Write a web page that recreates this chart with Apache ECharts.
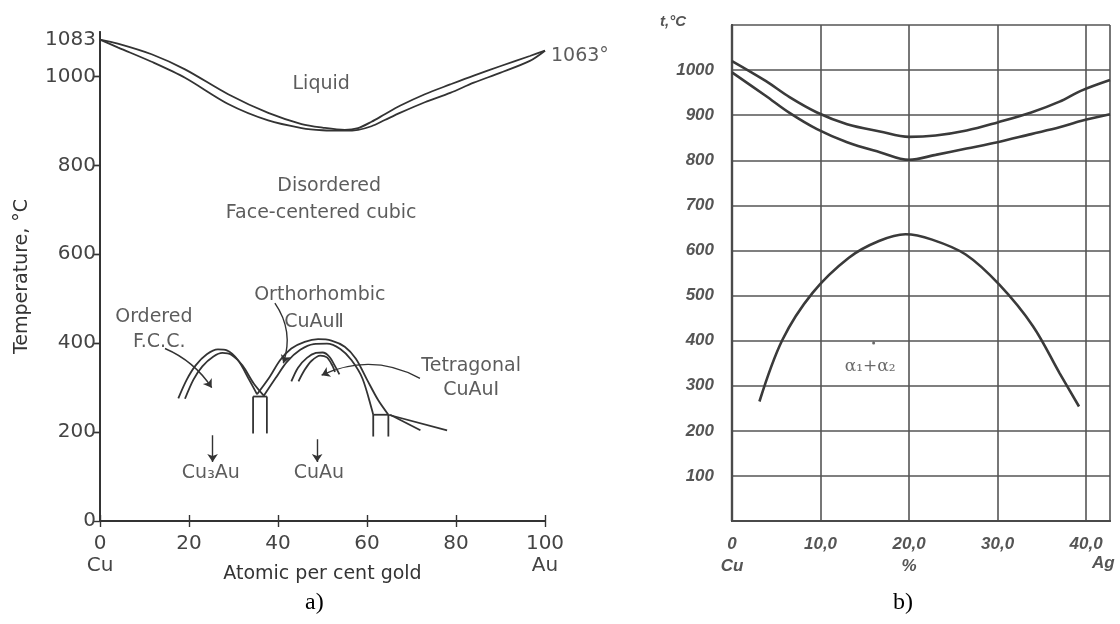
<!DOCTYPE html>
<html><head><meta charset="utf-8">
<script src="https://cdn.jsdelivr.net/npm/echarts@6/dist/echarts.min.js"></script>
<style>html,body{margin:0;padding:0;background:#fff}#c{width:1120px;height:624px}</style>
</head><body><div id="c"></div>
<script>
// ===== a) Cu–Au phase diagram =====
const aXTicks = [0, 20, 40, 60, 80, 100];
const aXSub = ['Cu', '', '', '', '', 'Au'];
const aYTicks = [0, 200, 400, 600, 800, 1000];
const aYExtra = [1083];
const aLiquidus = [[0,1083],[4,1074],[11.6,1050],[19.1,1016],[28.8,960],[37.8,918],[45.3,893],[50,885],[55,880],[58,884],[61,898],[64,915],[67.4,934],[73,960],[78.7,982],[84,1002],[89.9,1023],[96.6,1046],[100,1058]];
const aSolidus  = [[0,1083],[4.1,1065],[11.6,1033],[19.1,997],[28.8,938],[37.8,901],[45.3,884],[50,879],[55,878],[58,880],[61,888],[64,902],[67.4,918],[73,942],[78.7,963],[84,986],[89.9,1008],[96.6,1035],[100,1058]];
const aCu3AuOuter = [[17.6,276],[19.5,318],[21.5,350],[24,375],[26.5,386],[28.5,384],[31,362],[33.5,318],[35.3,285]];
const aCu3AuInner = [[19.1,275],[21,318],[23,348],[25.5,370],[27.5,378],[29.5,374],[32,350],[34.5,310],[36.8,282]];
const aCuAuOuter  = [[35.3,285],[38,322],[40.5,362],[43,388],[46,403],[49,409],[52,406],[55,392],[57.5,365],[60,318],[62.5,272],[64.8,239]];
const aCuAuInner  = [[36.8,282],[39.5,322],[42,358],[45,385],[48,398],[51,399],[54,387],[56.5,362],[59,320],[61.4,239]];
const aTetraOuter = [[43,314],[44.5,345],[46.5,367],[48.5,378],[50,379],[51.5,370],[53,345],[53.8,330]];
const aTetraInner = [[44.6,314],[46,340],[47.5,360],[49.5,372],[51,368],[52.2,350],[52.8,335]];
const aVert1 = [[34.4,280],[34.4,197]];
const aVert2 = [[37.5,280],[37.5,197]];
const aHoriz1 = [[34.4,280],[37.5,280]];
const aVert3 = [[61.4,239],[61.4,190]];
const aVert4 = [[64.8,239],[64.8,190]];
const aHoriz2 = [[61.4,239],[64.8,239]];
const aTail1 = [[64.8,239],[78,204]];
const aTail2 = [[65.2,239],[72,204]];
const aNotes = [
  {t:'Liquid', x:49.7, y:983},
  {t:'Disordered', x:51.5, y:754},
  {t:'Face-centered cubic', x:49.7, y:693},
  {t:'Orthorhombic', x:49.4, y:508},
  {t:'CuAuⅡ', x:48.1, y:448},
  {t:'Ordered', x:12.1, y:459},
  {t:'F.C.C.', x:13.3, y:403},
  {t:'Tetragonal', x:83.4, y:349},
  {t:'CuAuI', x:83.4, y:295},
  {t:'Cu₃Au', x:24.9, y:108},
  {t:'CuAu', x:49.2, y:108}
];
const aArrows = [
  {c:[[14.6,388],[25.1,300]], curve:0.15},
  {c:[[39.3,490],[41.2,355]], curve:0.25},
  {c:[[71.9,321],[49.8,328]], curve:-0.25},
  {c:[[25.3,193],[25.3,133]], curve:0},
  {c:[[48.8,184],[48.8,133]], curve:0}
];
const aRightLabel = {t:'1063°', x:100, y:1045};

// ===== b) Cu–Ag diagram =====
const bXTicks = [0, 10, 20, 30, 40];
const bXLabels = ['0', '10,0', '20,0', '30,0', '40,0'];
const bXSub = ['Cu', '', '%', '', ''];
const bYTicks = [100, 200, 300, 400, 500, 600, 700, 800, 900, 1000];
const bLiquidus = [[0,1020],[3.8,976],[6.5,940],[9.6,906],[13,880],[16.7,864],[20,852],[23,855],[26.5,866],[30,884],[33.8,906],[37,930],[39.4,954],[42.7,978]];
const bSolidus  = [[0,995],[3.8,943],[6.5,905],[9.6,869],[13,840],[16.7,818],[20,801],[23,812],[26.5,826],[30,840],[33.8,858],[37,873],[39.4,887],[42.7,902]];
const bDome = [[3.1,265],[5.7,402],[9.1,506],[13.2,584],[16.6,621],[19.6,636],[22.6,624],[26.4,591],[30.2,524],[34,432],[37,328],[39.2,254]];
const bNote = {t:'α₁+α₂', x:15.6, y:342};
const bDot = [[16.0,395]];

const INK = '#333';
const GREY = '#4a4a4a';
const fontA = 'DejaVu Sans';

function aLine(data, smooth) {
  return {type:'line', xAxisIndex:0, yAxisIndex:0, data:data, showSymbol:false, symbol:'none',
    smooth: smooth === undefined ? 0.3 : smooth, lineStyle:{color:INK, width:1.8}, silent:true, z:3};
}
function bLine(data) {
  return {type:'line', xAxisIndex:2, yAxisIndex:2, data:data, showSymbol:false, symbol:'none',
    smooth:0.35, lineStyle:{color:'#3a3a3a', width:2.6}, silent:true, z:3};
}

const series = [
  aLine(aLiquidus), aLine(aSolidus),
  aLine(aCu3AuOuter), aLine(aCu3AuInner),
  aLine(aCuAuOuter), aLine(aCuAuInner),
  aLine(aTetraOuter), aLine(aTetraInner),
  aLine(aVert1,false), aLine(aVert2,false), aLine(aHoriz1,false),
  aLine(aVert3,false), aLine(aVert4,false), aLine(aHoriz2,false),
  aLine(aTail1,false), aLine(aTail2,false),
  {type:'lines', coordinateSystem:'cartesian2d', xAxisIndex:0, yAxisIndex:0, silent:true,
   symbol:['none','arrow'], symbolSize:8,
   data: aArrows.map(a => ({coords:a.c, lineStyle:{curveness:a.curve}})),
   lineStyle:{color:INK, width:1.4, opacity:1}},
  {type:'scatter', xAxisIndex:0, yAxisIndex:0, symbolSize:0, silent:true,
   data: aNotes.map(n => ({value:[n.x, n.y], name:n.t})),
   label:{show:true, position:'inside', formatter:p => p.name, fontFamily:fontA, fontSize:19, color:INK}},
  {type:'scatter', xAxisIndex:0, yAxisIndex:0, symbolSize:0, silent:true,
   data:[{value:[aRightLabel.x, aRightLabel.y], name:aRightLabel.t}],
   label:{show:true, position:'right', distance:6, formatter:p => p.name, fontFamily:fontA, fontSize:19, color:INK}},
  bLine(bLiquidus), bLine(bSolidus), bLine(bDome),
  {type:'scatter', xAxisIndex:2, yAxisIndex:2, symbolSize:0, silent:true,
   data:[{value:[bNote.x, bNote.y], name:bNote.t}],
   label:{show:true, position:'inside', formatter:p => p.name, fontFamily:'DejaVu Serif', fontSize:17, color:'#444'}},
  {type:'scatter', xAxisIndex:2, yAxisIndex:2, symbolSize:3, silent:true, data:bDot, itemStyle:{color:'#444'}}
];

const chart = echarts.init(document.getElementById('c'), null, {renderer:'canvas'});
chart.setOption({
  animation:false,
  backgroundColor:'#fff',
  title:[
    {text:'a)', left:300, top:586, textStyle:{fontFamily:'Liberation Serif', fontSize:24, fontWeight:'normal', color:'#000'}},
    {text:'b)', left:888, top:586, textStyle:{fontFamily:'Liberation Serif', fontSize:24, fontWeight:'normal', color:'#000'}}
  ],
  graphic:[
    {type:'text', left:660, top:14, style:{text:'t,°C', font:'italic bold 15px "Liberation Sans"', fill:'#555'}},
    {type:'text', left:1092, top:555, style:{text:'Ag', font:'italic bold 17px "Liberation Sans"', fill:'#555'}}
  ],
  grid:[
    {left:100, top:32, width:445, height:489},
    {left:732, top:25, width:378, height:496}
  ],
  xAxis:[
    {gridIndex:0, type:'value', min:0, max:100, interval:20, position:'bottom',
     axisLine:{lineStyle:{color:INK, width:1.8}}, axisTick:{inside:true, length:6, lineStyle:{color:INK, width:1.4}},
     splitLine:{show:false},
     axisLabel:{margin:12, fontFamily:fontA, fontSize:20, color:'#444', lineHeight:22,
       formatter:v => { const i = aXTicks.indexOf(v); return i < 0 ? '' : (aXSub[i] ? String(v) + '\n' + aXSub[i] : String(v)); }},
     name:'Atomic per cent gold', nameLocation:'middle', nameGap:44, nameMoveOverlap:false,
     nameTextStyle:{fontFamily:fontA, fontSize:19, color:INK}},
    {gridIndex:0, type:'value', min:0, max:100, interval:20, position:'top',
     axisLine:{lineStyle:{color:INK, width:1.8}}, axisTick:{inside:true, length:6, lineStyle:{color:INK, width:1.4}},
     axisLabel:{show:false}, splitLine:{show:false}},
    {gridIndex:1, type:'value', min:0, max:42.7, interval:10, position:'bottom',
     axisLine:{lineStyle:{color:GREY, width:2.2}}, axisTick:{show:false},
     splitLine:{show:true, lineStyle:{color:'#555', width:1.6}},
     axisLabel:{margin:12, fontFamily:'Liberation Sans', fontStyle:'italic', fontWeight:'bold', fontSize:17, color:'#555', lineHeight:22,
       formatter:v => { const i = bXTicks.indexOf(v); return i < 0 ? '' : (bXSub[i] ? bXLabels[i] + '\n' + bXSub[i] : bXLabels[i]); }}},
    {gridIndex:1, type:'value', min:0, max:42.7, position:'top',
     axisLine:{lineStyle:{color:GREY, width:2.2}}, axisTick:{show:false}, axisLabel:{show:false}, splitLine:{show:false}}
  ],
  yAxis:[
    {gridIndex:0, type:'value', min:0, max:1100, interval:200, position:'left',
     axisLine:{lineStyle:{color:INK, width:1.8}},
     axisTick:{inside:false, length:6, customValues:aYTicks, lineStyle:{color:INK, width:1.4}},
     splitLine:{show:false},
     axisLabel:{margin:4, fontFamily:fontA, fontSize:20, color:'#444', customValues:aYTicks.concat(aYExtra), formatter:v => String(v)},
     name:'Temperature, °C', nameLocation:'middle', nameGap:68, nameRotate:90, nameMoveOverlap:false,
     nameTextStyle:{fontFamily:fontA, fontSize:19, color:INK}},
    {gridIndex:0, type:'value', min:0, max:1100, interval:200, position:'right',
     axisLine:{lineStyle:{color:INK, width:1.8}},
     axisTick:{inside:true, length:6, customValues:aYTicks.slice(1), lineStyle:{color:INK, width:1.4}},
     axisLabel:{show:false}, splitLine:{show:false}},
    {gridIndex:1, type:'value', min:0, max:1100, interval:100, position:'left',
     axisLine:{lineStyle:{color:GREY, width:2.2}}, axisTick:{show:false},
     splitLine:{show:true, lineStyle:{color:'#555', width:1.6}},
     axisLabel:{margin:18, fontFamily:'Liberation Sans', fontStyle:'italic', fontWeight:'bold', fontSize:17, color:'#555',
       customValues:bYTicks, formatter:v => String(v)}},
    {gridIndex:1, type:'value', min:0, max:1100, position:'right',
     axisLine:{lineStyle:{color:GREY, width:2.2}}, axisTick:{show:false}, axisLabel:{show:false}, splitLine:{show:false}}
  ],
  series: series
});
</script></body></html>
